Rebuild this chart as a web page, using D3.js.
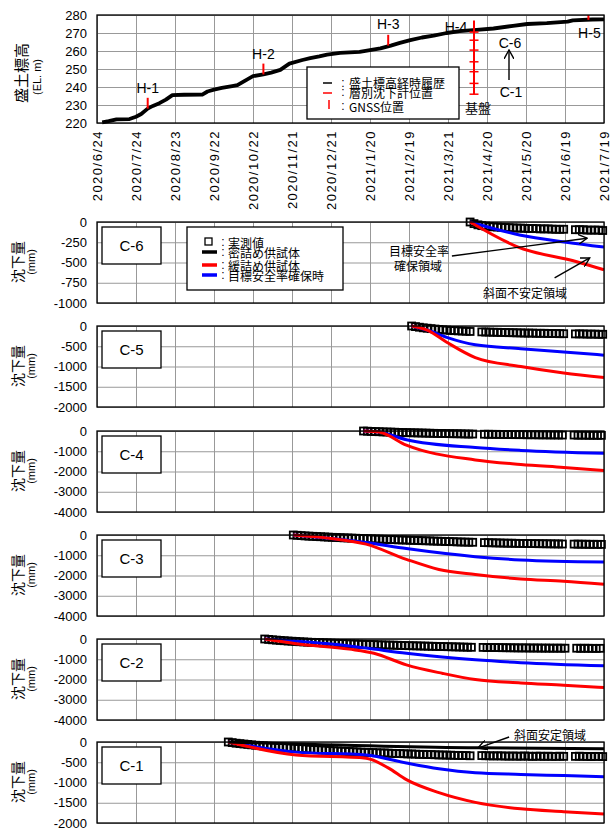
<!DOCTYPE html>
<html>
<head>
<meta charset="utf-8">
<script src="https://cdn.jsdelivr.net/npm/d3@7"></script>
<style>
  body { margin: 0; background: #fff; }
  svg { display: block; }
</style>
</head>
<body>
<svg id="chart" width="612" height="829"></svg>
<script>
// ---------- data ----------
const tickLabels = ["2020/6/24","2020/7/24","2020/8/23","2020/9/22","2020/10/22","2020/11/21","2020/12/21",
                    "2021/1/20","2021/2/19","2021/3/21","2021/4/20","2021/5/20","2021/6/19","2021/7/19"];
const elevTicks = [220, 230, 240, 250, 260, 270, 280];

// embankment crest elevation history (EL. m)
const embankDates = ["2020/6/28","2020/7/3","2020/7/9","2020/7/19","2020/7/24","2020/7/28","2020/8/2","2020/8/6",
  "2020/8/11","2020/8/16","2020/8/21","2020/8/30","2020/9/13","2020/9/17","2020/9/22","2020/9/28","2020/10/6",
  "2020/10/10","2020/10/17","2020/10/22","2020/10/30","2020/11/5","2020/11/12","2020/11/19","2020/11/29",
  "2020/12/5","2020/12/12","2020/12/18","2020/12/28","2021/1/12","2021/1/20","2021/1/28","2021/2/5","2021/2/12",
  "2021/2/20","2021/3/1","2021/3/10","2021/3/20","2021/3/30","2021/4/12","2021/4/25","2021/5/10","2021/5/21",
  "2021/6/5","2021/6/21","2021/6/25","2021/7/10","2021/7/19"];
const embankElev = [220.3,221,222,222.2,223.5,225,228,229.5,231,233,235.5,235.7,235.8,237.5,238.5,239.5,240.5,
  241,244,246,247,248,249.5,253,255,256,257,258,259,259.5,260.5,261.5,263,264.5,266,267.5,268.5,270,271,271.7,
  272.5,274,275,275.5,276.3,277,277.5,277.6];

// GNSS points H-1..H-5 : date, bottom / top elevation of the marker
const gnssNames = ["H-1","H-2","H-3","H-4","H-5"];
const gnssDates = ["2020/8/2","2020/10/30","2021/2/3","2021/4/10","2021/7/7"];
const gnssBottom = [228, 247, 263, 236, 277.3];
const gnssTop = [234, 253, 269, 277, 280];
// layered settlement gauge levels at H-4
const gaugeLevels = [270.5, 266, 260.5, 254, 248.5, 242, 236];

// settlement panels
const panelNames = ["C-6","C-5","C-4","C-3","C-2","C-1"];
const panelMin = [-1000, -2000, -4000, -4000, -4000, -2000];
const panelStep = [250, 500, 1000, 1000, 1000, 500];

// measured settlement (mm), one reading every 3 days from the start date; null = no reading
const measureStepDays = 3;
const measStart = ["2021/4/7","2021/2/21","2021/1/15","2020/11/22","2020/10/31","2020/10/3"];
const measC6 = [0,-20,-35,-45,-50,-55,-60,-62,-65,-68,-70,-72,-75,-75,-78,-80,-80,-82,-85,-85,-85,-88,-90,-90,-90,
  null,null,-95,-95,-95,-100,-100,-100,-100,-105];
const measC5 = [0,-15,-30,-45,-55,-65,-75,-85,-95,-100,-110,-115,-120,-125,-130,-135,null,null,
  -145,-150,-150,-155,-155,-160,-160,-165,-165,-170,-170,-175,-175,-175,-180,-180,-180,-185,-185,-185,-190,-190,
  null,null,-195,-195,-195,-200,-200,-200,-205,-205];
const measC4 = [0,-10,-20,-30,-35,-45,-50,-55,-60,-70,-75,-80,-85,-90,-95,-100,-105,-110,-115,-120,-120,-125,-130,
  -135,-135,-140,-145,-150,-150,null,null,-160,-160,-165,-165,-170,-170,-175,-175,-180,-180,-180,-185,-185,-185,
  -190,-190,-190,-195,-195,-195,-200,null,null,-200,-205,-205,-205,-210,-210,-210,-215];
const measC3 = [0,-15,-30,-45,-55,-65,-75,-85,-95,-105,-115,-120,-130,-140,-145,-155,-160,-170,-175,-185,-190,-200,
  -205,-210,-220,-225,-230,-240,-245,-250,-260,-265,-270,-280,-285,-290,-300,-305,-310,-320,-325,-330,-340,-345,
  -350,-355,-360,null,null,-375,-380,-385,-390,-395,-400,-405,-405,-410,-415,-415,-420,-425,-425,-430,-430,-435,
  -435,-440,-440,-445,null,null,-450,-450,-455,-455,-460,-460,-460,-465];
const measC2 = [0,-20,-40,-55,-70,-85,-100,-110,-120,-135,-145,-155,-165,-175,-180,-190,-195,-205,-210,-220,-225,
  -235,-240,-245,-255,-260,-265,-270,-275,-285,-290,-295,-300,-305,-310,-320,-325,-330,-335,-340,-345,-350,-355,
  -360,-365,-370,-375,-380,-385,-390,-395,-400,-405,-410,null,null,-415,-420,-420,-425,-425,-430,-430,-435,-435,
  -440,-440,-440,-445,-445,-445,-450,-450,-450,-455,-450,-455,-455,null,null,-455,-460,-455,-460,-460,-465,-460];
const measC1 = [0,-15,-30,-40,-50,-60,-70,-80,-90,-95,-105,-110,-120,-125,-130,-140,-145,-150,-160,-165,-170,-180,
  -185,-190,-195,-200,-210,-215,-220,-225,-230,-235,-240,-245,-250,-255,-255,-260,-265,-270,-270,-275,-280,-285,
  -285,-290,-295,-295,-300,-305,-305,-310,-310,-315,-320,-320,-325,-325,-330,-330,-335,-335,-340,null,null,
  -335,-340,-340,-345,-340,-345,-345,-350,-345,-350,-350,-345,-350,-355,-350,-350,-355,-350,-355,-355,-350,-355,
  null,null,-355,-350,-355,-355,-360,-355,-355,-360];
const measured = [measC6, measC5, measC4, measC3, measC2, measC1];

// predicted settlement: loose specimen (red), target safety factor (blue)
const looseDates = [
  ["2021/4/7","2021/5/14","2021/6/28","2021/7/19"],
  ["2021/2/21","2021/3/5","2021/3/20","2021/4/11","2021/5/16","2021/6/18","2021/7/19"],
  ["2021/1/15","2021/1/27","2021/2/17","2021/4/11","2021/5/16","2021/6/18","2021/7/19"],
  ["2020/11/22","2020/12/21","2021/1/17","2021/2/17","2021/3/14","2021/4/11","2021/5/16","2021/6/18","2021/7/19"],
  ["2020/10/31","2020/11/24","2021/1/4","2021/1/23","2021/2/17","2021/3/17","2021/4/11","2021/5/16","2021/6/18","2021/7/19"],
  ["2020/10/3","2020/11/24","2021/1/17","2021/2/3","2021/2/17","2021/3/14","2021/4/11","2021/5/16","2021/6/18","2021/7/19"]];
const looseVals = [
  [0,-310,-490,-590],
  [0,-100,-400,-780,-1000,-1160,-1270],
  [0,-50,-700,-1430,-1650,-1800,-1950],
  [0,-170,-450,-1200,-1700,-1950,-2170,-2280,-2430],
  [0,-230,-500,-700,-1280,-1700,-2000,-2170,-2280,-2400],
  [0,-320,-400,-640,-930,-1250,-1490,-1650,-1720,-1775]];
const targetDates = [
  ["2021/4/7","2021/5/15","2021/6/20","2021/7/19"],
  ["2021/2/21","2021/3/5","2021/3/20","2021/4/11","2021/5/16","2021/6/18","2021/7/19"],
  ["2021/1/15","2021/1/27","2021/2/17","2021/4/11","2021/5/16","2021/7/19"],
  ["2020/11/22","2020/12/21","2021/1/17","2021/2/17","2021/4/11","2021/5/16","2021/7/19"],
  ["2020/10/31","2020/12/21","2021/1/17","2021/2/17","2021/4/11","2021/5/16","2021/7/19"],
  ["2020/10/3","2020/11/24","2021/1/17","2021/2/17","2021/3/14","2021/4/11","2021/5/16","2021/6/18","2021/7/19"]];
const targetVals = [
  [0,-160,-250,-310],
  [0,-100,-280,-465,-560,-640,-720],
  [0,-50,-430,-820,-960,-1100],
  [0,-170,-370,-670,-1070,-1230,-1330],
  [0,-250,-450,-700,-1030,-1170,-1320],
  [0,-250,-320,-520,-660,-760,-800,-830,-860]];
// dense specimen (black), visible on C-1
const denseDates = ["2020/10/3","2021/4/13","2021/7/19"];
const denseVals = [0, -145, -165];

// ---------- layout ----------
const parse = d3.timeParse("%Y/%m/%d");
const svg = d3.select("#chart");
const LEFT = 97, RIGHT = 604;
const numFont = "'Liberation Sans', Arial, sans-serif";
const jpFont = "'Noto Sans CJK JP', sans-serif";
const gridColor = "#999999";

const x = d3.scaleTime()
  .domain([parse(tickLabels[0]), parse(tickLabels[tickLabels.length - 1])])
  .range([LEFT, RIGHT]);
const tickDates = tickLabels.map(parse);

// arrowhead (open V)
const defs = svg.append("defs");
defs.append("marker").attr("id", "arr").attr("viewBox", "0 0 10 10")
  .attr("refX", 9).attr("refY", 5).attr("markerWidth", 10).attr("markerHeight", 10)
  .attr("markerUnits", "userSpaceOnUse").attr("orient", "auto")
  .append("path").attr("d", "M0,0 L9,5 L0,10").attr("fill", "none")
  .attr("stroke", "#000").attr("stroke-width", 1.4);

function styleGrid(g) {
  g.select(".domain").remove();
  g.selectAll("line").attr("stroke", gridColor).attr("stroke-width", 1);
}

function drawFrame(top, height, yScale, yTicks, fmt) {
  const g = svg.append("g");
  // vertical grid
  g.append("g").attr("transform", `translate(0,${top + height})`)
    .call(d3.axisBottom(x).tickValues(tickDates).tickSize(-height).tickFormat(""))
    .call(styleGrid);
  // horizontal grid
  g.append("g").attr("transform", `translate(${LEFT},0)`)
    .call(d3.axisLeft(yScale).tickValues(yTicks).tickSize(-(RIGHT - LEFT)).tickFormat(""))
    .call(styleGrid);
  // y labels
  const ax = g.append("g").attr("transform", `translate(${LEFT},0)`)
    .call(d3.axisLeft(yScale).tickValues(yTicks).tickSize(0).tickPadding(10).tickFormat(fmt));
  ax.select(".domain").remove();
  ax.selectAll("text").attr("font-family", numFont).attr("font-size", 13).attr("fill", "#000");
  return g;
}

function border(top, height) {
  svg.append("rect").attr("x", LEFT).attr("y", top).attr("width", RIGHT - LEFT).attr("height", height)
    .attr("fill", "none").attr("stroke", "#000").attr("stroke-width", 1.3);
}

function vtext(str, cx, cy, size, fam) {
  svg.append("text").attr("transform", `translate(${cx},${cy}) rotate(-90)`)
    .attr("text-anchor", "middle").attr("dominant-baseline", "central")
    .attr("font-family", fam).attr("font-size", size).attr("fill", "#000").text(str);
}

function text(str, tx, ty, size, fam, anchor) {
  return svg.append("text").attr("x", tx).attr("y", ty).attr("text-anchor", anchor || "middle")
    .attr("dominant-baseline", "central").attr("font-family", fam).attr("font-size", size)
    .attr("fill", "#000").text(str);
}

const minusFmt = v => (v < 0 ? "-" + Math.abs(v) : String(v));

// ---------- top chart: embankment elevation ----------
const T_TOP = 15, T_H = 108;
const yTop = d3.scaleLinear().domain([220, 280]).range([T_TOP + T_H, T_TOP]);
drawFrame(T_TOP, T_H, yTop, elevTicks, d => d);

// x tick labels (rotated)
const xa = svg.append("g").attr("transform", `translate(0,${T_TOP + T_H})`)
  .call(d3.axisBottom(x).tickValues(tickDates).tickSize(0).tickFormat((d, i) => tickLabels[i]));
xa.select(".domain").remove();
xa.selectAll("text").attr("transform", "rotate(-90)").attr("text-anchor", "end")
  .attr("x", -7).attr("y", 0).attr("dy", "0.35em")
  .attr("font-family", numFont).attr("font-size", 13).attr("letter-spacing", 1.5).attr("fill", "#000");

const embank = embankDates.map((d, i) => ({ d: parse(d), v: embankElev[i] }));
svg.append("path").datum(embank)
  .attr("d", d3.line().x(p => x(p.d)).y(p => yTop(p.v)))
  .attr("fill", "none").attr("stroke", "#000").attr("stroke-width", 3.8).attr("stroke-linejoin", "round");

// GNSS markers and settlement gauge
gnssDates.forEach((d, i) => {
  const gx = x(parse(d));
  svg.append("line").attr("x1", gx).attr("x2", gx).attr("y1", yTop(gnssBottom[i])).attr("y2", yTop(gnssTop[i]))
    .attr("stroke", "#ff0000").attr("stroke-width", 2);
});
const h4x = x(parse(gnssDates[3]));
svg.selectAll(".gauge").data(gaugeLevels).join("line")
  .attr("x1", h4x - 4.5).attr("x2", h4x + 4.5)
  .attr("y1", d => yTop(d)).attr("y2", d => yTop(d))
  .attr("stroke", "#ff0000").attr("stroke-width", 1.5);

// GNSS labels
const lblOff = [[0, -10], [0, -10], [0, -11], [-18, 7], [1, 18]];
gnssNames.forEach((n, i) => {
  const gx = x(parse(gnssDates[i]));
  text(n, gx + lblOff[i][0], yTop(gnssTop[i]) + lblOff[i][1], 14, numFont);
});
text("基盤", h4x + 4, yTop(gaugeLevels[gaugeLevels.length - 1]) + 13, 13, jpFont);
text("C-6", 510, 43, 14, numFont);
text("C-1", 511, 92, 14, numFont);
svg.append("line").attr("x1", 509).attr("y1", 80).attr("x2", 509).attr("y2", 50)
  .attr("stroke", "#000").attr("stroke-width", 1.4).attr("marker-end", "url(#arr)");

border(T_TOP, T_H);

// legend of top chart
svg.append("rect").attr("x", 307).attr("y", 67).attr("width", 152).attr("height", 52)
  .attr("fill", "#fff").attr("stroke", "#000").attr("stroke-width", 1.3);
svg.append("line").attr("x1", 323).attr("x2", 332).attr("y1", 83).attr("y2", 83).attr("stroke", "#000").attr("stroke-width", 1.5);
svg.append("line").attr("x1", 323).attr("x2", 332).attr("y1", 93).attr("y2", 93).attr("stroke", "#ff0000").attr("stroke-width", 1.5);
svg.append("line").attr("x1", 329).attr("x2", 329).attr("y1", 100).attr("y2", 109).attr("stroke", "#ff0000").attr("stroke-width", 1.5);
[[":", 343, 83], [":", 343, 92], [":", 343, 106]].forEach(t => text(t[0], t[1], t[2], 12, numFont));
text("盛土標高経時履歴", 349, 82, 12, jpFont, "start");
text("層別沈下計位置", 349, 92, 12, jpFont, "start");
text("GNSS位置", 349, 106, 12, jpFont, "start");

vtext("盛土標高", 20, 73, 15, jpFont);
vtext("(EL. m)", 37, 77, 11, numFont);

// ---------- settlement panels ----------
const P_TOPS = [222, 326, 431, 535, 639, 742];
const P_H = 81;

panelNames.forEach((name, k) => {
  const top = P_TOPS[k];
  const y = d3.scaleLinear().domain([panelMin[k], 0]).range([top + P_H, top]);
  const ticks = d3.range(0, panelMin[k] - 1, -panelStep[k]);
  drawFrame(top, P_H, y, ticks, minusFmt);

  const clip = "clip" + k;
  defs.append("clipPath").attr("id", clip).append("rect")
    .attr("x", LEFT - 5).attr("y", top - 5).attr("width", RIGHT - LEFT + 10).attr("height", P_H + 5);

  const line = d3.line().x(p => x(p.d)).y(p => y(p.v)).curve(d3.curveMonotoneX);

  // measured values
  const start = parse(measStart[k]);
  const pts = measured[k].map((v, i) => ({ d: d3.timeDay.offset(start, i * measureStepDays), v }))
    .filter(p => p.v !== null);
  svg.append("g").attr("clip-path", `url(#${clip})`).selectAll("rect").data(pts).join("rect")
    .attr("x", p => x(p.d) - 3.5).attr("y", p => y(p.v) - 3.5).attr("width", 7).attr("height", 7)
    .attr("fill", "none").attr("stroke", "#000").attr("stroke-width", 1.8);

  const series = [
    [targetDates[k], targetVals[k], "#0000ff"],
    [looseDates[k], looseVals[k], "#ff0000"]
  ];
  if (name === "C-1") series.push([denseDates, denseVals, "#000"]);
  series.forEach(s => {
    const data = s[0].map((d, i) => ({ d: parse(d), v: s[1][i] }));
    svg.append("path").datum(data).attr("d", line).attr("fill", "none")
      .attr("stroke", s[2]).attr("stroke-width", 3).attr("stroke-linejoin", "round");
  });

  border(top, P_H);

  // panel name box
  svg.append("rect").attr("x", 102).attr("y", top + 5).attr("width", 59).attr("height", 37)
    .attr("fill", "#fff").attr("stroke", "#000").attr("stroke-width", 1.3);
  text(name, 131.5, top + 23.5, 15, numFont);

  vtext("沈下量", 17, top + 40, 14, jpFont);
  vtext("(mm)", 31, top + 40, 11, numFont);

  if (name === "C-6") {
    // legend
    svg.append("rect").attr("x", 187).attr("y", top + 5).attr("width", 156).attr("height", 63)
      .attr("fill", "#fff").attr("stroke", "#000").attr("stroke-width", 1.3);
    svg.append("rect").attr("x", 205).attr("y", top + 16).attr("width", 7).attr("height", 7)
      .attr("fill", "#fff").attr("stroke", "#000").attr("stroke-width", 1.3);
    [["#000", 30], ["#ff0000", 43], ["#0000ff", 53]].forEach(c =>
      svg.append("line").attr("x1", 202).attr("x2", 217).attr("y1", top + c[1]).attr("y2", top + c[1])
        .attr("stroke", c[0]).attr("stroke-width", 3.5));
    const rows = [["実測値", 20], ["密詰め供試体", 30], ["緩詰め供試体", 43], ["目標安全率確保時", 53]];
    rows.forEach(r => {
      text(":", 223, top + r[1], 12, numFont);
      text(r[0], 228, top + r[1], 12, jpFont, "start");
    });
    // annotations
    text("目標安全率", 419, top + 28, 12, jpFont);
    text("確保領域", 418, top + 43, 12, jpFont);
    svg.append("line").attr("x1", x(parse("2021/3/24"))).attr("y1", y(-420))
      .attr("x2", x(parse("2021/7/6"))).attr("y2", y(-200))
      .attr("stroke", "#000").attr("stroke-width", 1.4).attr("marker-end", "url(#arr)");
    text("斜面不安定領域", 525, top + 70, 12, jpFont);
    svg.append("line").attr("x1", x(parse("2021/6/11"))).attr("y1", y(-690))
      .attr("x2", x(parse("2021/7/8"))).attr("y2", y(-444))
      .attr("stroke", "#000").attr("stroke-width", 1.4).attr("marker-end", "url(#arr)");
  }
  if (name === "C-1") {
    text("斜面安定領域", 514, top - 8, 12, jpFont, "start");
    svg.append("line").attr("x1", x(parse("2021/5/7"))).attr("y1", top - 5)
      .attr("x2", x(parse("2021/4/13"))).attr("y2", y(-150))
      .attr("stroke", "#000").attr("stroke-width", 1.4).attr("marker-end", "url(#arr)");
  }
});
</script>
</body>
</html>
